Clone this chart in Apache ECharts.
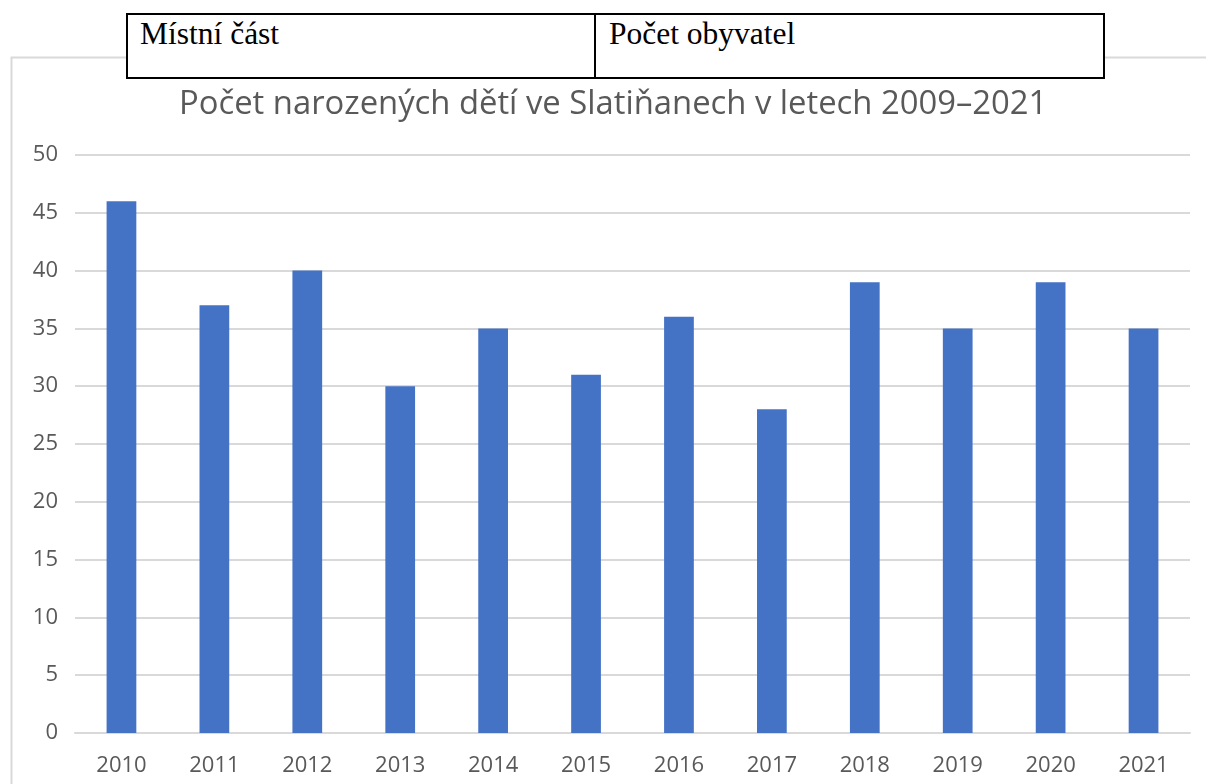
<!DOCTYPE html>
<html><head><meta charset="utf-8">
<script src="https://cdn.jsdelivr.net/npm/echarts@6/dist/echarts.min.js"></script>
<style>
html,body{margin:0;padding:0;background:#fff;width:1206px;height:784px;overflow:hidden;}
#chart{position:absolute;left:0;top:0;width:1206px;height:784px;}
#tbl{position:absolute;left:126px;top:13px;width:979px;height:66px;border:2px solid #000;box-sizing:border-box;background:#fff;z-index:5;font-family:"Liberation Serif","DejaVu Serif",serif;font-size:31.5px;line-height:36px;color:#000;}
#tbl .c1{position:absolute;left:12px;top:1px;}
#tbl .c2{position:absolute;left:481px;top:1px;}
#tbl .div{position:absolute;left:466px;top:0;width:2px;height:100%;background:#000;}
</style></head>
<body>
<div id="chart"></div>
<div id="tbl"><span class="c1">Místní část</span><div class="div"></div><span class="c2">Počet obyvatel</span></div>
<script>
const categories = ['2010','2011','2012','2013','2014','2015','2016','2017','2018','2019','2020','2021'];
const births = [46,37,40,30,35,31,36,28,39,35,39,35];
const titleText = 'Počet narozených dětí ve Slatiňanech v letech 2009–2021';

const chart = echarts.init(document.getElementById('chart'));
chart.setOption({
  animation:false,
  title:{text:titleText,left:174,top:83,textStyle:{fontFamily:'Open Sans',fontSize:32.8,fontWeight:'normal',color:'#595959'}},
  graphic:[{type:'rect',shape:{x:11.5,y:57.5,width:1300,height:800},style:{fill:'none',stroke:'#d9d9d9',lineWidth:2},silent:true}],
  grid:{left:75,right:16,top:155,bottom:51},
  xAxis:{type:'category',data:categories,axisTick:{show:false},axisLine:{lineStyle:{color:'#d9d9d9',width:2}},
    axisLabel:{color:'#595959',fontFamily:'Open Sans',fontSize:22,margin:22}},
  yAxis:{type:'value',min:0,max:50,interval:5,axisLine:{show:false},axisTick:{show:false},
    splitLine:{lineStyle:{color:'#d9d9d9',width:2}},
    axisLabel:{color:'#595959',fontFamily:'Open Sans',fontSize:22,margin:17}},
  series:[{type:'bar',data:births,barWidth:'32%',itemStyle:{color:'#4472C4'}}]
});
</script>
</body></html>
